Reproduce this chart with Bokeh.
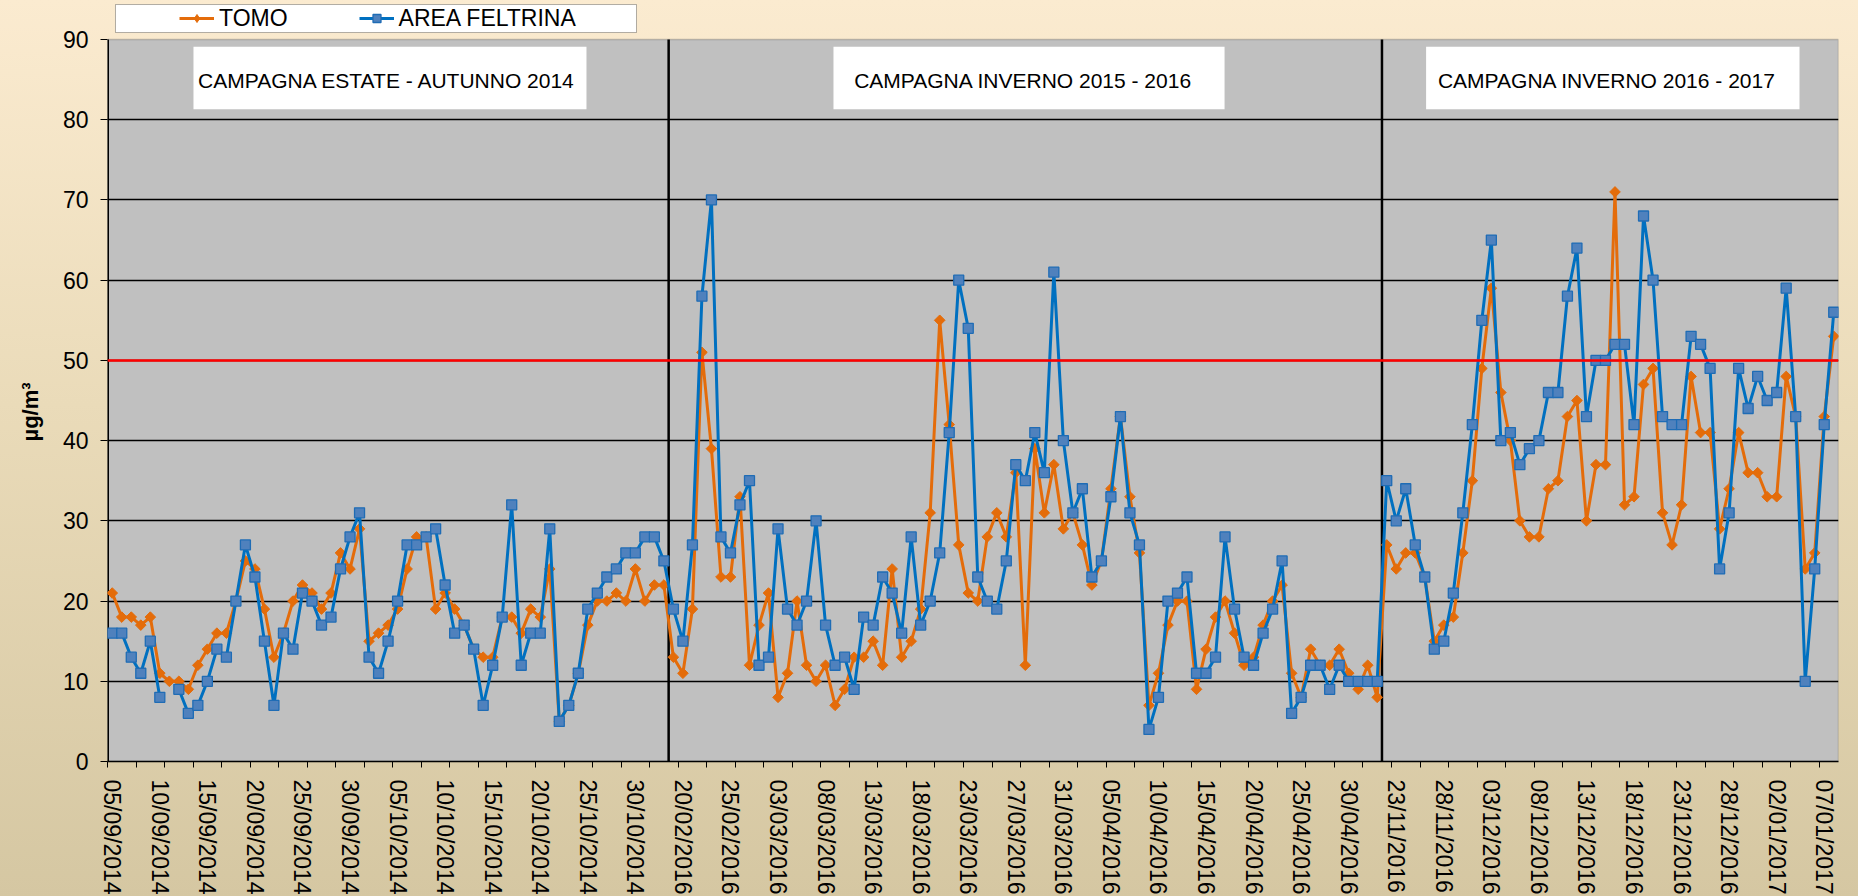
import numpy as np
from bokeh.plotting import figure
from bokeh.models import (Range1d, FixedTicker, Span, BoxAnnotation, Label,
                          Legend, LegendItem, Title)
from bokeh.embed import file_html
from bokeh.resources import INLINE

# ---------------- data ----------------
tomo = [21, 18, 18, 17, 18, 11, 10, 10, 9, 12, 14, 16, 16, 20, 25, 24, 19, 13, 16, 20,
        22, 21, 19, 21, 26, 24, 29, 15, 16, 17, 19, 24, 28, 28, 19, 21, 19, 17, 14, 13,
        13, 18, 18, 16, 19, 18, 24, 5, 7, 11, 17, 20, 20, 21, 20, 24, 20, 22, 22,
        13, 11, 19, 51, 39, 23, 23, 33, 12, 17, 21, 8, 11, 20, 12, 10, 12, 7, 9, 13, 13,
        15, 12, 24, 13, 15, 19, 31, 55, 42, 27, 21, 20, 28, 31, 28, 36, 12, 39, 31, 37,
        29, 31, 27, 22, 25, 34, 43, 33, 26, 7, 11, 17, 20, 20, 9, 14, 18, 20, 16, 12,
        13, 17, 20, 22, 11, 8, 14, 12, 12, 14, 11, 9, 12, 8,
        27, 24, 26, 26, 23, 15, 17, 18, 26, 35, 49, 59, 46, 40, 30, 28, 28, 34, 35, 43,
        45, 30, 37, 37, 71, 32, 33, 47, 49, 31, 27, 32, 48, 41, 41, 29, 34, 41, 36, 36,
        33, 33, 48, 43, 24, 26, 43, 53]

area_feltrina = [16, 16, 13, 11, 15, 8, None, 9, 6, 7, 10, 14, 13, 20, 27, 23, 15, 7, 16, 14,
                 21, 20, 17, 18, 24, 28, 31, 13, 11, 15, 20, 27, 27, 28, 29, 22, 16, 17, 14, 7,
                 12, 18, 32, 12, 16, 16, 29, 5, 7, 11, 19, 21, 23, 24, 26, 26, 28, 28, 25,
                 19, 15, 27, 58, 70, 28, 26, 32, 35, 12, 13, 29, 19, 17, 20, 30, 17, 12, 13, 9,
                 18, 17, 23, 21, 16, 28, 17, 20, 26, 41, 60, 54, 23, 20, 19, 25, 37, 35, 41, 36,
                 61, 40, 31, 34, 23, 25, 33, 43, 31, 27, 4, 8, 20, 21, 23, 11, 11, 13, 28, 19,
                 13, 12, 16, 19, 25, 6, 8, 12, 12, 9, 12, 10, 10, 10, 10,
                 35, 30, 34, 27, 23, 14, 15, 21, 31, 42, 55, 65, 40, 41, 37, 39, 40, 46, 46, 58,
                 64, 43, 50, 50, 52, 52, 42, 68, 60, 43, 42, 42, 53, 52, 49, 24, 31, 49, 44, 48,
                 45, 46, 59, 43, 10, 24, 42, 56]

tick_labels = ["05/09/2014", "10/09/2014", "15/09/2014", "20/09/2014", "25/09/2014",
               "30/09/2014", "05/10/2014", "10/10/2014", "15/10/2014", "20/10/2014",
               "25/10/2014", "30/10/2014", "20/02/2016", "25/02/2016", "03/03/2016",
               "08/03/2016", "13/03/2016", "18/03/2016", "23/03/2016", "27/03/2016",
               "31/03/2016", "05/04/2016", "10/04/2016", "15/04/2016", "20/04/2016",
               "25/04/2016", "30/04/2016", "23/11/2016", "28/11/2016", "03/12/2016",
               "08/12/2016", "13/12/2016", "18/12/2016", "23/12/2016", "28/12/2016",
               "02/01/2017", "07/01/2017"]
label_every = 5

series_names = ["TOMO", "AREA FELTRINA"]
campaign_titles = ["CAMPAGNA  ESTATE - AUTUNNO 2014",
                   "CAMPAGNA  INVERNO  2015 - 2016",
                   "CAMPAGNA  INVERNO  2016 - 2017"]
campaign_lengths = [59, 75, 48]
limit_value = 50
y_max = 90

# ---------------- figure ----------------
n = len(tomo)
x = np.arange(n)
y_tomo = np.array(tomo, dtype=float)
y_area = np.array(area_feltrina, dtype=float)

FONT = "Liberation Sans"
plot_h = 722                       # pixel height of the 0..90 plot area
head = 39                          # pixel band above the plot area (legend)
y_top = y_max + head * y_max / plot_h

p = figure(frame_width=1731, frame_height=plot_h + head,
           x_range=Range1d(-0.5, n - 0.5), y_range=Range1d(0, y_top),
           output_backend="svg", toolbar_location=None,
           min_border_left=107, min_border_right=20, min_border_top=0, min_border_bottom=135,
           background_fill_color=None, border_fill_color=None)
p.styles = {"background": "linear-gradient(180deg, #FBEBD0 0%, #EADBB9 45%, #D5C7A2 100%)"}
p.outline_line_color = None

# grey plot area (0..90)
p.add_layout(BoxAnnotation(left=-0.5, right=n - 0.5, bottom=0, top=y_max,
                           fill_color="#C0C0C0", fill_alpha=1,
                           line_color="#555555", line_width=1.5, level="image"))

# grid
p.xgrid.visible = False
p.ygrid.ticker = FixedTicker(ticks=list(range(10, y_max, 10)))
p.ygrid.grid_line_color = "black"
p.ygrid.grid_line_width = 1.5

# y axis
ya = p.yaxis[0]
ya.ticker = FixedTicker(ticks=list(range(0, y_max + 1, 10)))
ya.axis_line_color = None
ya.major_tick_line_color = "black"
ya.major_tick_out = 7
ya.major_tick_in = 0
ya.minor_tick_out = 0
ya.minor_tick_in = 0
ya.major_label_text_font = FONT
ya.major_label_text_font_size = "23px"
ya.major_label_text_color = "black"
ya.major_label_standoff = 12
p.add_layout(Title(text="µg/m³", align="left", offset=320, standoff=31,
                   vertical_align="middle",
                   text_font=FONT, text_font_size="22px", text_font_style="bold",
                   text_color="black"), "left")

# x axis
major = [i * label_every for i in range(len(tick_labels))]
minor = [-0.5 + 3 * k for k in range(int(n / 3) + 1)]
xa = p.xaxis[0]
xa.ticker = FixedTicker(ticks=major, minor_ticks=minor)
xa.major_label_overrides = {t: lab for t, lab in zip(major, tick_labels)}
xa.major_label_orientation = "vertical"
xa.major_label_text_font = FONT
xa.major_label_text_font_size = "23px"
xa.major_label_text_color = "black"
xa.major_label_standoff = 12
xa.major_tick_out = 0
xa.major_tick_in = 0
xa.minor_tick_out = 6
xa.minor_tick_in = 0
xa.minor_tick_line_color = "black"
xa.axis_line_color = "black"
xa.axis_line_width = 1.5

# left axis line (only over the plot area), limit line, campaign dividers
p.segment(x0=[-0.5], y0=[0], x1=[-0.5], y1=[y_max], line_color="black", line_width=3)
p.add_layout(Span(location=limit_value, dimension="width", line_color="#FF0000", line_width=2.5))
edges = list(np.cumsum(campaign_lengths)[:-1] - 0.5)
p.segment(x0=edges, y0=[0] * len(edges), x1=edges, y1=[y_max] * len(edges),
          line_color="black", line_width=2.5)

# campaign title boxes
box_x = [(8.54, 49.86), (75.83, 116.95), (138.14, 177.4)]
for (l, r), title in zip(box_x, campaign_titles):
    p.add_layout(BoxAnnotation(left=l, right=r, bottom=81.3, top=89.1,
                               fill_color="white", fill_alpha=1, line_color=None))
    p.add_layout(Label(x=(l + r) / 2, y=84.9, text=title, text_align="center",
                       text_baseline="middle", text_font=FONT, text_font_size="21px",
                       text_color="black"))

# series
ORANGE = "#E46C0A"
BLUE = "#0070C0"
l1 = p.line(x, y_tomo, line_color=ORANGE, line_width=3)
s1 = p.scatter(x, y_tomo, marker="square", angle=np.pi / 4, size=7.5,
               fill_color=ORANGE, line_color=ORANGE, line_width=1)
l2 = p.line(x, y_area, line_color=BLUE, line_width=3)
s2 = p.scatter(x, y_area, marker="square", size=10, fill_color="#4F81BD",
               line_color="#1F6CB5", line_width=1.3)

# legend-only diamond marker for TOMO (a single NaN point: never drawn in the plot)
leg_diamond = p.scatter([0], [np.nan], marker="diamond", size=12,
                        fill_color=ORANGE, line_color=ORANGE)

# legend: white framed box in the band above the plot area
p.add_layout(BoxAnnotation(left=0.34, right=55.12, bottom=90.87, top=94.36,
                           fill_color="white", fill_alpha=1, line_color="black", line_width=1))
legend = Legend(items=[LegendItem(label=series_names[0], renderers=[l1, leg_diamond]),
                       LegendItem(label=series_names[1], renderers=[l2, s2])],
                orientation="horizontal", location=(72, 729.5),
                border_line_color=None, background_fill_alpha=0,
                padding=0, margin=0, spacing=71, glyph_width=35, glyph_height=20,
                label_standoff=5, label_text_font=FONT, label_text_font_size="23px",
                label_text_color="black")
p.add_layout(legend)

open("out.html", "w").write(file_html(p, INLINE))
